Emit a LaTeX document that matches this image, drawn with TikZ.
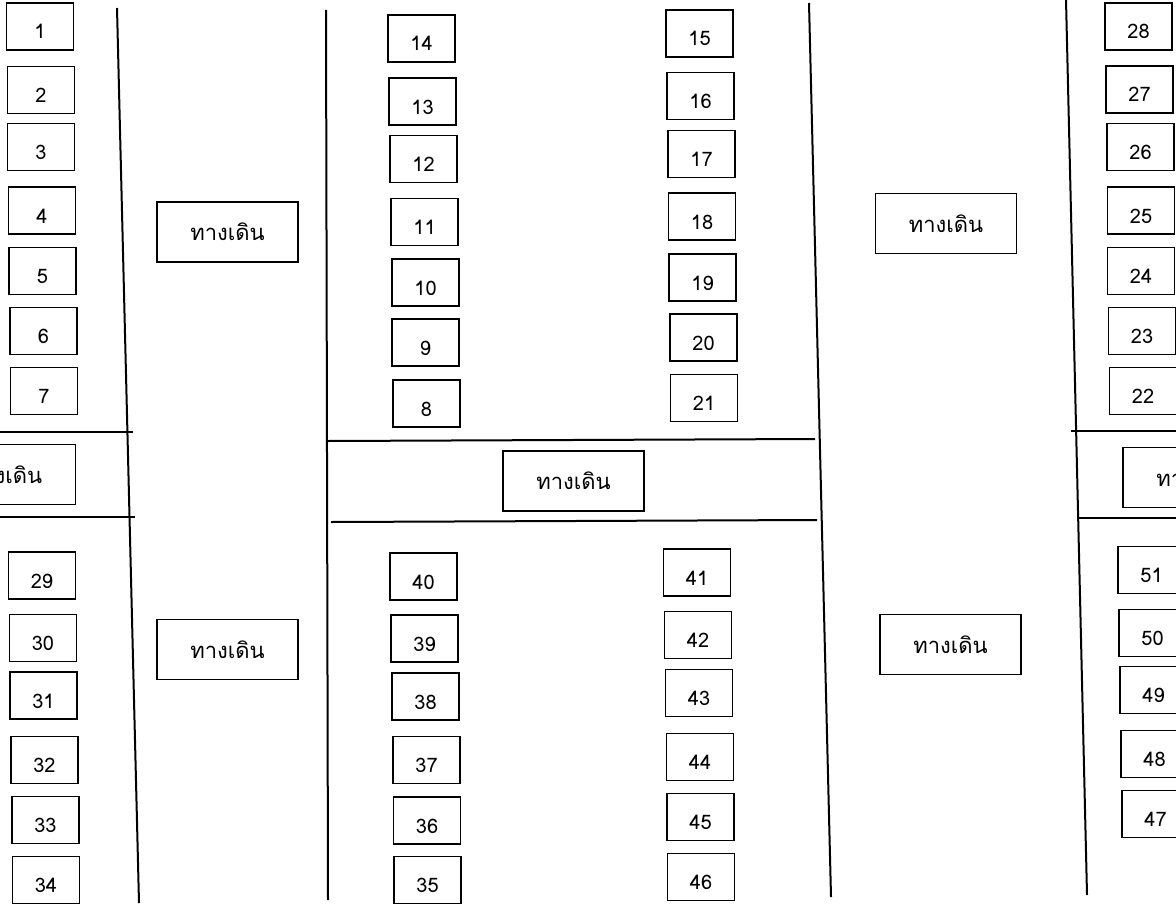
\documentclass[tikz,border=0pt]{standalone}
\usepackage{fontspec}
\newfontfamily\thaifont[Script=Thai]{Loma}
\tikzset{
  stall/.style={draw, line width=0.9pt, minimum width=33.5pt, minimum height=23.5pt,
    inner sep=0pt, text height=12.5pt, text depth=0pt, font=\thaifont\fontsize{10}{12}\selectfont},
  walkway/.style={draw, line width=0.9pt, minimum width=70.5pt, minimum height=30pt,
    inner sep=0pt, font=\thaifont\fontsize{11}{13}\selectfont},
  wall/.style={line width=1pt}
}
\begin{document}
\begin{tikzpicture}[x=0.5pt,y=-0.5pt]
\useasboundingbox (0,0) rectangle (1176,904);
\clip (0,0) rectangle (1176,904);

\draw[wall] (117,8) -- (139,903);
\draw[wall] (326,10) -- (328,900);
\draw[wall] (809,3) -- (831,897);
\draw[wall] (1066,0) -- (1087,895);
\draw[wall] (0,432) -- (133,432);
\draw[wall] (0,517) -- (135,517);
\draw[wall] (328,441) -- (815,439);
\draw[wall] (331,522) -- (817,520);
\draw[wall] (1071,431) -- (1176,431);
\draw[wall] (1079,518) -- (1176,518);

\foreach \n/\x/\y in {1/40/26.5, 2/41/90, 3/41/147, 4/42/210.5, 5/42.5/271, 6/43.5/331, 7/44/391,
  29/42/575.5, 30/43/638, 31/43.5/695.5, 32/44.5/760, 33/45.5/820, 34/46/880}
\node[stall] (s\n) at (\x,\y) {\n};

\foreach \n/\x/\y in {14/421.5/38.5, 13/422.5/101.5, 12/423.5/159, 11/424.5/222, 10/425.5/282.5,
  9/425.5/342.5, 8/426.5/403.5, 40/423.5/576.5, 39/424.5/638.5, 38/425.5/696.5, 37/426.5/760,
  36/427/820.5, 35/427.5/880}
\node[stall] (s\n) at (\x,\y) {\n};

\foreach \n/\x/\y in {15/699.5/33.5, 16/700.5/96, 17/701.5/154, 18/702/216.5, 19/702.5/277.5,
  20/703.5/337.5, 21/704/398, 41/697/572.5, 42/698/635, 43/699/693, 44/700/757, 45/700.5/817,
  46/701/877}
\node[stall] (s\n) at (\x,\y) {\n};

\foreach \n/\x/\y in {28/1138.5/26.5, 27/1139.5/89.5, 26/1140.5/147, 25/1141/210.5, 24/1141/271,
  23/1142/331, 22/1143/391, 51/1151.5/570, 50/1152.5/633, 49/1153.5/690, 48/1154.5/754,
  47/1155.5/814}
\node[stall] (s\n) at (\x,\y) {\n};

\foreach \w/\x/\y in {1/5/474.5, 2/227.5/232, 3/227.5/649.5, 4/573.5/481, 5/946/223.5,
  6/950.5/644.5, 7/1193.5/477.5}
\node[walkway] (w\w) at (\x,\y) {ทางเดิน};
\end{tikzpicture}
\end{document}
